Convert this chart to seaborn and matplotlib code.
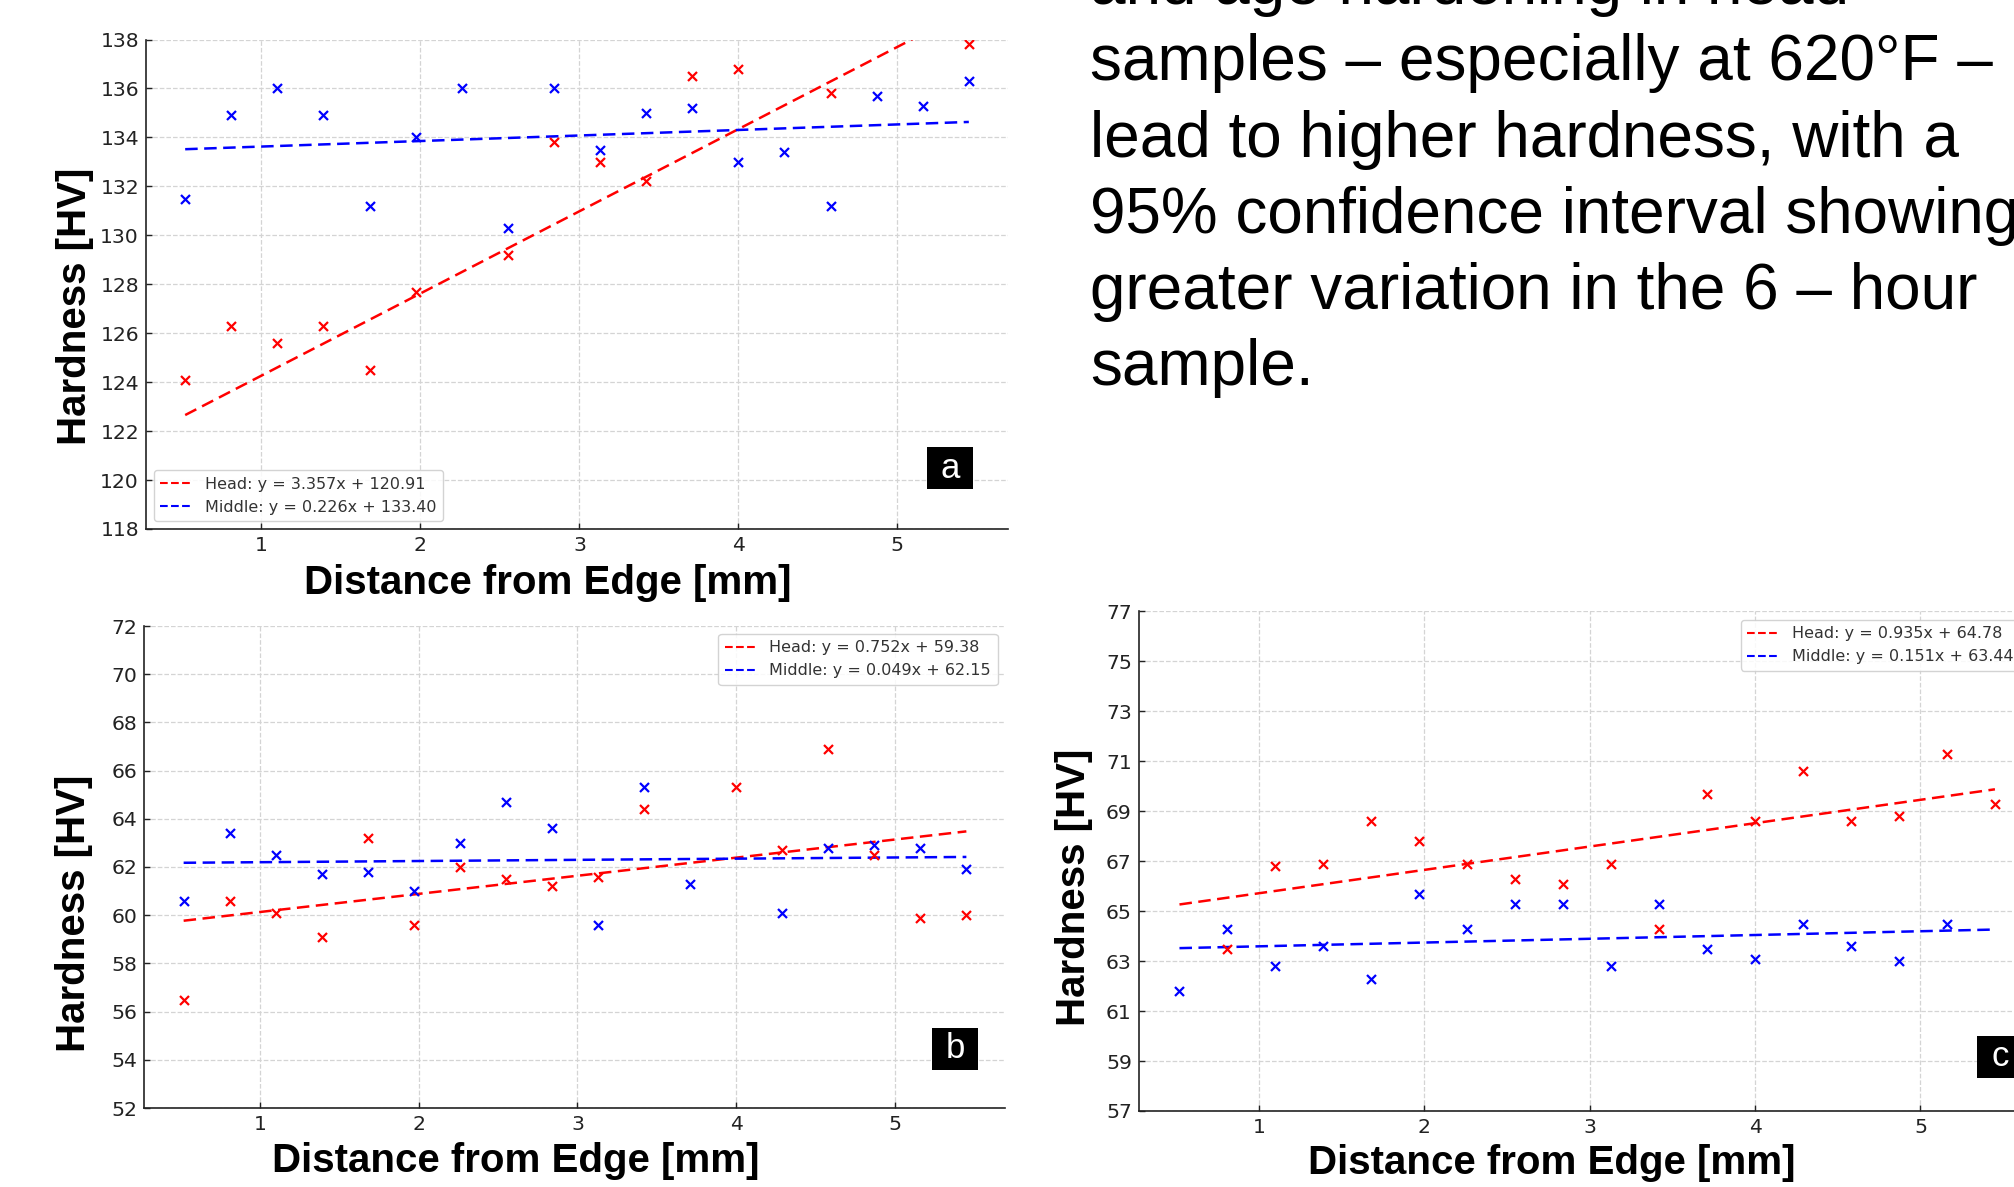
import numpy as np
import pandas as pd
import matplotlib
matplotlib.use("Agg")
import matplotlib.pyplot as plt
from matplotlib.patches import Rectangle
import seaborn as sns

nan = np.nan

# ---------------- data ----------------
distance = [0.52, 0.81, 1.10, 1.39, 1.68, 1.97, 2.26, 2.55, 2.84,
            3.13, 3.42, 3.71, 4.00, 4.29, 4.58, 4.87, 5.16, 5.45]

head_a = [124.1, 126.3, 125.6, 126.3, 124.5, 127.7, nan, 129.2, 133.8,
          133.0, 132.2, 136.5, 136.8, nan, 135.8, nan, nan, 137.8]
middle_a = [131.5, 134.9, 136.0, 134.9, 131.2, 134.0, 136.0, 130.3, 136.0,
            133.5, 135.0, 135.2, 133.0, 133.4, 131.2, 135.7, 135.3, 136.3]

head_b = [56.5, 60.6, 60.1, 59.1, 63.2, 59.6, 62.0, 61.5, 61.2,
          61.6, 64.4, nan, 65.3, 62.7, 66.9, 62.5, 59.9, 60.0]
middle_b = [60.6, 63.4, 62.5, 61.7, 61.8, 61.0, 63.0, 64.7, 63.6,
            59.6, 65.3, 61.3, nan, 60.1, 62.8, 62.9, 62.8, 61.9]

head_c = [nan, 63.5, 66.8, 66.9, 68.6, 67.8, 66.9, 66.3, 66.1,
          66.9, 64.3, 69.7, 68.6, 70.6, 68.6, 68.8, 71.3, 69.3]
middle_c = [61.8, 64.3, 62.8, 63.6, 62.3, 65.7, 64.3, 65.3, 65.3,
            62.8, 65.3, 63.5, 63.1, 64.5, 63.6, 63.0, 64.5, nan]

fit_head = {"a": (3.357, 120.91), "b": (0.752, 59.38), "c": (0.935, 64.78)}
fit_middle = {"a": (0.226, 133.40), "b": (0.049, 62.15), "c": (0.151, 63.44)}

ylims = {"a": (118, 138), "b": (52, 72), "c": (57, 77)}
x_ticks = [1, 2, 3, 4, 5]

text_lines = [
    "and age hardening in head",
    "samples \u2013 especially at 620\u00b0F \u2013",
    "lead to higher hardness, with a",
    "95% confidence interval showing",
    "greater variation in the 6 \u2013 hour",
    "sample.",
]

# ---------------- style ----------------
sns.set_theme(style="ticks")
plt.rcParams["font.family"] = ["DejaVu Sans"]

W, H = 2015, 1187
fig = plt.figure(figsize=(W / 100, H / 100), dpi=100)
fig.patch.set_facecolor("white")

def fx(px):
    return px / W

def fy(py):
    return 1 - py / H

# axes rectangles in pixel coordinates: left, top, right, bottom
rects = {
    "a": (146, 39.5, 1008, 529),
    "b": (144.5, 626, 1005.5, 1108),
    "c": (1138.7, 611.3, 2035.7, 1111),
}

legend_cfg = {
    "a": dict(loc="lower left"),
    "b": dict(loc="upper right"),
    "c": dict(loc="upper left", bbox_to_anchor=(0.6715, 0.983), borderaxespad=0),
}

panel_data = {
    "a": (head_a, middle_a),
    "b": (head_b, middle_b),
    "c": (head_c, middle_c),
}

xs = np.array(distance)
xr = xs.max() - xs.min()
xlim = (xs.min() - 0.05 * xr, xs.max() + 0.05 * xr)

for key in ["a", "b", "c"]:
    l, t, r, b = rects[key]
    ax = fig.add_axes([fx(l), fy(b), fx(r - l), (b - t) / H])
    head, middle = panel_data[key]
    df = pd.DataFrame({"x": distance, "head": head, "middle": middle})

    ax.set_axisbelow(True)
    ax.grid(True, linestyle="--", color="#d4d4d4", linewidth=0.9)

    sns.scatterplot(data=df, x="x", y="head", marker="x", color="red",
                    s=42, linewidth=1.6, ax=ax, legend=False, zorder=3)
    sns.scatterplot(data=df, x="x", y="middle", marker="x", color="blue",
                    s=42, linewidth=1.6, ax=ax, legend=False, zorder=3)

    x_ends = np.array([xs.min(), xs.max()])
    mh, bh = fit_head[key]
    mm, bm = fit_middle[key]
    line_df = pd.DataFrame({
        "x": np.concatenate([x_ends, x_ends]),
        "y": np.concatenate([mh * x_ends + bh, mm * x_ends + bm]),
        "series": [f"Head: y = {mh:.3f}x + {bh:.2f}"] * 2
                  + [f"Middle: y = {mm:.3f}x + {bm:.2f}"] * 2,
    })
    sns.lineplot(data=line_df, x="x", y="y", hue="series",
                 palette=["red", "blue"], linewidth=1.8, ax=ax, zorder=2)
    for ln in ax.get_lines():
        ln.set_linestyle((0, (5, 2.6)))

    ax.set_xlim(*xlim)
    ax.set_ylim(*ylims[key])
    ax.set_xticks(x_ticks)
    ax.set_yticks(np.arange(ylims[key][0], ylims[key][1] + 0.1, 2))
    ax.set_xlabel("")
    ax.set_ylabel("")
    ax.tick_params(direction="in", length=4, width=1, colors="#222222",
                   labelsize=14.7, pad=5)
    for sp in ["top", "right"]:
        ax.spines[sp].set_visible(False)
    for sp in ["left", "bottom"]:
        ax.spines[sp].set_color("#222222")
        ax.spines[sp].set_linewidth(1.2)

    leg = ax.legend(fontsize=11.5, frameon=True, fancybox=True,
                    framealpha=0.85, edgecolor="#cccccc",
                    **legend_cfg[key])
    for txt in leg.get_texts():
        txt.set_color("#333333")
    for h in leg.get_lines():
        h.set_linestyle((0, (3.7, 1.6)))
        h.set_linewidth(1.5)

# ---------------- axis titles ----------------
label_font = dict(family=["Liberation Sans", "DejaVu Sans"], weight="bold",
                  size=29, color="black")
xlabel_pos = {"a": (548, 594), "b": (516, 1172), "c": (1552, 1174)}
ylabel_pos = {"a": (75, 306), "b": (74, 913), "c": (1074, 887)}
for key in ["a", "b", "c"]:
    x0, y0 = xlabel_pos[key]
    fig.text(fx(x0), fy(y0), "Distance from Edge [mm]", ha="center",
             va="baseline", **label_font)
    x1, y1 = ylabel_pos[key]
    fig.text(fx(x1), fy(y1), "Hardness [HV]", rotation=90, ha="center",
             va="center", **label_font)

# ---------------- panel tags ----------------
tag_boxes = {"a": (927, 447, 46, 42), "b": (932, 1028, 46, 42),
             "c": (1977, 1036, 46, 42)}
for key, (bx, by, bw, bh) in tag_boxes.items():
    fig.patches.append(Rectangle((fx(bx), fy(by + bh)), bw / W, bh / H,
                                 transform=fig.transFigure,
                                 facecolor="black", edgecolor="none"))
    fig.text(fx(bx + bw / 2), fy(by + bh / 2), key, color="white",
             ha="center", va="center", fontsize=25,
             family=["Liberation Sans", "DejaVu Sans"])

# ---------------- right-hand text ----------------
baselines = [4, 80.3, 156.6, 232.9, 309.2, 385.5]
for line, yb in zip(text_lines, baselines):
    fig.text(fx(1090), fy(yb), line, ha="left", va="baseline",
             fontsize=46, color="black",
             family=["Liberation Sans", "DejaVu Sans"])

fig.savefig("out.png", dpi=100)
